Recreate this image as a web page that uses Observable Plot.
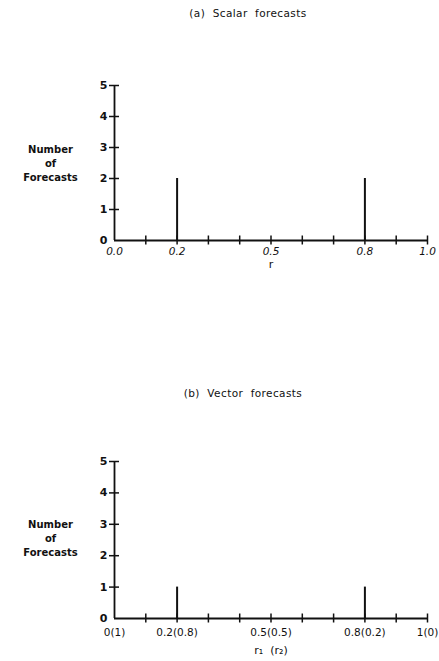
<!DOCTYPE html>
<html>
<head>
<meta charset="utf-8">
<script src="https://cdn.jsdelivr.net/npm/d3@7"></script>
<script src="https://cdn.jsdelivr.net/npm/@observablehq/plot@0.6"></script>
<style>
  html, body { margin: 0; padding: 0; background: #fff; }
  #wrap { position: relative; width: 439px; height: 661px; overflow: hidden; font-family: "DejaVu Sans", sans-serif; }
  .title { position: absolute; transform: translateX(-50%); white-space: pre; font-size: 10.5px; color: #111; letter-spacing: 0.4px; }
  .panel { position: absolute; left: 0; }
  svg { display: block; }
</style>
</head>
<body>
<div id="wrap"></div>
<script>
// ---- data ----
const rCategories = [0.2, 0.8];
const scalarCounts = [2, 2];
const vectorCounts = [1, 1];
const yTicks = [0, 1, 2, 3, 4, 5];
const xMinorTicks = [0.1, 0.2, 0.3, 0.4, 0.5, 0.6, 0.7, 0.8, 0.9, 1.0];
const xLabelPositions = [0, 0.2, 0.5, 0.8, 1.0];
const scalarTickLabels = ["0.0", "0.2", "0.5", "0.8", "1.0"];
const vectorTickLabels = ["0(1)", "0.2(0.8)", "0.5(0.5)", "0.8(0.2)", "1(0)"];
const titles = ["(a)  Scalar  forecasts", "(b)  Vector  forecasts"];
const yLabel = "Number\nof\nForecasts";
const xLabels = ["r", "r\u2081  (r\u2082)"];

const wrap = document.getElementById("wrap");

function addTitle(text, left, top) {
  const d = document.createElement("div");
  d.className = "title";
  d.textContent = text;
  d.style.left = left + "px";
  d.style.top = top + "px";
  wrap.appendChild(d);
}

function panel({counts, tickLabels, xLabel, top, height, marginTop, marginBottom, italic, tickDy, xLabelDy, yLabelDy}) {
  const data = rCategories.map((r, i) => ({r, n: counts[i]}));
  const chart = Plot.plot({
    width: 439,
    height,
    marginLeft: 114,
    marginRight: 12,
    marginTop,
    marginBottom,
    style: {fontFamily: "DejaVu Sans, sans-serif", fontSize: "11px", color: "#111", background: "#fff"},
    x: {domain: [0, 1]},
    y: {domain: [0, 5]},
    marks: [
      // axis lines
      Plot.ruleY([0], {stroke: "#111", strokeWidth: 1.8}),
      Plot.ruleX([0], {stroke: "#111", strokeWidth: 1.8}),
      // crossing ticks on x
      Plot.axisX(xMinorTicks, {tickSize: 9, dy: -4.5, tickFormat: () => "", stroke: "#111", strokeWidth: 1.5, label: null}),
      // crossing ticks on y
      Plot.axisY(yTicks.filter(d => d > 0), {tickSize: 10, dx: 5, tickFormat: () => "", stroke: "#111", strokeWidth: 1.5, label: null}),
      // y tick labels
      Plot.axisY(yTicks, {tickSize: 0, tickPadding: 7, fontWeight: "bold", fontSize: 11, label: null}),
      // x tick labels
      Plot.text(xLabelPositions, {x: d => d, frameAnchor: "bottom", dy: tickDy, text: (d, i) => tickLabels[i], fontStyle: italic ? "italic" : "normal", fontSize: 10.5, fill: "#111"}),
      // x axis label
      Plot.text([xLabel], {frameAnchor: "bottom", dy: xLabelDy, fontSize: 11, fill: "#111"}),
      // y axis label
      Plot.text([yLabel], {frameAnchor: "left", dx: -64, dy: yLabelDy, textAnchor: "middle", fontSize: 10, fontWeight: "bold", lineHeight: 1.4, fill: "#111"}),
      // bars
      Plot.ruleX(data, {x: "r", y1: 0, y2: "n", stroke: "#111", strokeWidth: 2})
    ]
  });
  chart.classList.add("panel");
  chart.style.top = top + "px";
  wrap.appendChild(chart);
}

addTitle(titles[0], 248, 7);
panel({counts: scalarCounts, tickLabels: scalarTickLabels, xLabel: xLabels[0], top: 30, height: 340, marginTop: 55, marginBottom: 130, italic: true, tickDy: 14, xLabelDy: 27, yLabelDy: 0});
addTitle(titles[1], 243, 387);
panel({counts: vectorCounts, tickLabels: vectorTickLabels, xLabel: xLabels[1], top: 410, height: 251, marginTop: 51, marginBottom: 43, italic: false, tickDy: 17, xLabelDy: 35, yLabelDy: -2});
</script>
</body>
</html>
